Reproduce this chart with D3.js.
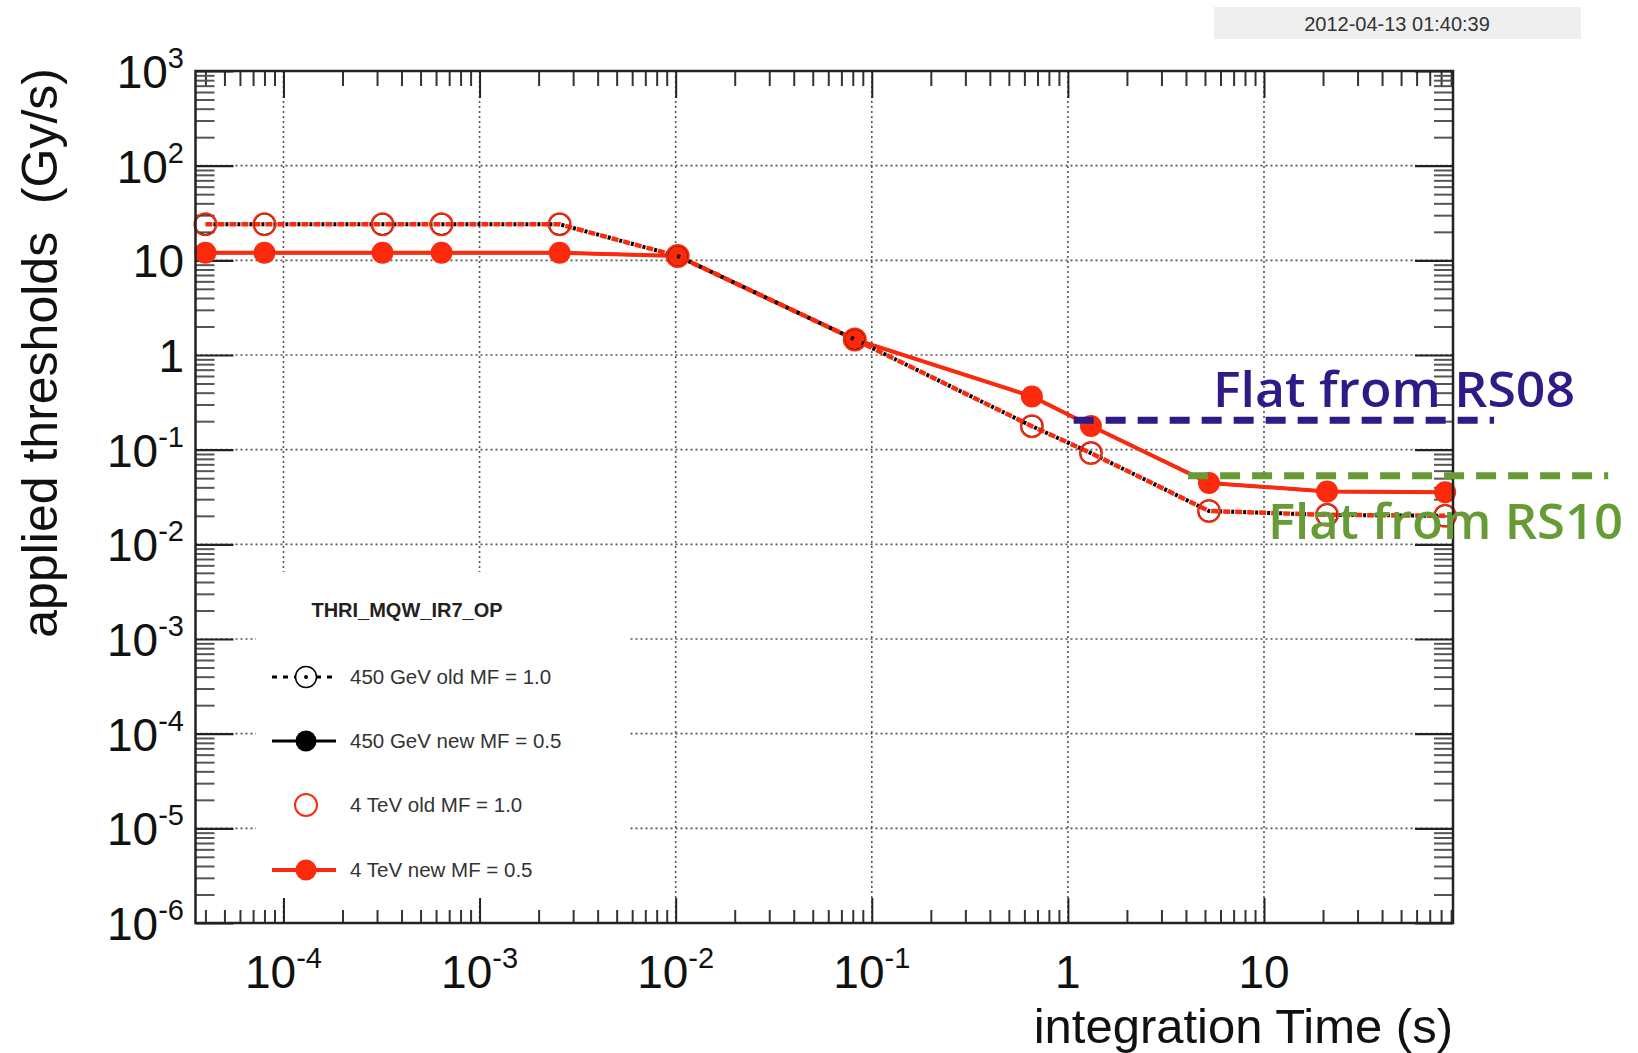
<!DOCTYPE html>
<html>
<head>
<meta charset="utf-8">
<script src="https://cdn.jsdelivr.net/npm/d3@7"></script>
<style>
html, body { margin: 0; padding: 0; background: #fff; }
svg { display: block; font-family: "Liberation Sans", Arial, Helvetica, sans-serif; }
</style>
</head>
<body>
<svg id="chart" width="1638" height="1053"></svg>
<script>
// BLM running sums and their integration windows (s)
const runningSums = ['RS01', 'RS02', 'RS03', 'RS04', 'RS05', 'RS06', 'RS07', 'RS08', 'RS09', 'RS10', 'RS11', 'RS12'];
const integrationTimes = [4e-5, 8e-5, 3.2e-4, 6.4e-4, 2.56e-3, 1.024e-2, 8.192e-2, 0.65536, 1.31072, 5.24288, 20.97152, 83.88608];

// thresholds (Gy/s)
const old450GeV = [24, 24, 24, 24, 24, 11.1, 1.46, 0.177, 0.092, 0.0225, 0.0205, 0.02];
const new450GeV = [12, 12, 12, 12, 12, 11.1, 1.46, 0.365, 0.178, 0.0445, 0.0362, 0.0355];
const old4TeV = [24, 24, 24, 24, 24, 11.1, 1.46, 0.177, 0.092, 0.0225, 0.0205, 0.02];
const new4TeV = [12, 12, 12, 12, 12, 11.1, 1.46, 0.365, 0.178, 0.0445, 0.0362, 0.0355];

const xTickValues = [1e-4, 1e-3, 1e-2, 1e-1, 1, 10];
const xTickLabels = [['10', '-4'], ['10', '-3'], ['10', '-2'], ['10', '-1'], ['1', ''], ['10', '']];
const yTickValues = [1e3, 1e2, 10, 1, 1e-1, 1e-2, 1e-3, 1e-4, 1e-5, 1e-6];
const yTickLabels = [['10', '3'], ['10', '2'], ['10', ''], ['1', ''], ['10', '-1'], ['10', '-2'], ['10', '-3'], ['10', '-4'], ['10', '-5'], ['10', '-6']];

const legendTitle = 'THRI_MQW_IR7_OP';
const legendLabels = ['450 GeV old MF = 1.0', '450 GeV new MF = 0.5', '4 TeV old MF = 1.0', '4 TeV new MF = 0.5'];

// "flat from" annotations: level (Gy/s) and time span (s)
const flatLabels = ['Flat from RS08', 'Flat from RS10'];
const flatLevels = [0.205, 0.053];
const flatFrom = [1.07, 4.1];
const flatTo = [149, 569];
const flatColors = ['#2f1a86', '#679b36'];

const timestamp = '2012-04-13 01:40:39';

const RED = '#fb2a0c';
const plot = { left: 195.5, right: 1453, top: 71, bottom: 923 };

const svg = d3.select('#chart');
svg.append('rect').attr('width', 1638).attr('height', 1053).attr('fill', '#fff');

const x = d3.scaleLog().domain([3.56e-5, 92]).range([plot.left, plot.right]);
const y = d3.scaleLog().domain([1e-6, 1e3]).range([plot.bottom, plot.top]);

function minorTicks(scale) {
    const [lo, hi] = scale.domain();
    const out = [];
    for (let k = Math.floor(Math.log10(lo)); k <= Math.ceil(Math.log10(hi)); k++) {
        for (let m = 2; m <= 9; m++) {
            const v = m * Math.pow(10, k);
            if (v > lo && v < hi) out.push(v);
        }
    }
    return out;
}

// grid
const grid = svg.append('g').attr('stroke', '#555').attr('stroke-width', 1.6).attr('stroke-dasharray', '2,3');
grid.selectAll('line.vx').data(xTickValues).enter().append('line')
    .attr('x1', (d) => x(d)).attr('x2', (d) => x(d))
    .attr('y1', plot.top).attr('y2', plot.bottom);
grid.selectAll('line.hy').data(yTickValues.filter((d) => d > 1e-6 && d < 1e3)).enter().append('line')
    .attr('x1', plot.left).attr('x2', plot.right)
    .attr('y1', (d) => y(d)).attr('y2', (d) => y(d));

// legend background hides the grid
svg.append('rect').attr('x', 256).attr('y', 572).attr('width', 372).attr('height', 330).attr('fill', '#fff');

// ticks through d3 axes
function tickAxis(axis, transform, color, width) {
    const g = svg.append('g').attr('transform', transform).call(axis);
    g.select('.domain').remove();
    g.selectAll('line').attr('stroke', color).attr('stroke-width', width);
    return g;
}
const xMinor = minorTicks(x);
const yMinor = minorTicks(y);
tickAxis(d3.axisBottom(x).tickValues(xTickValues).tickSizeInner(-25).tickSizeOuter(0).tickFormat(''), `translate(0,${plot.bottom})`, '#222', 2);
tickAxis(d3.axisBottom(x).tickValues(xMinor).tickSizeInner(-13).tickSizeOuter(0).tickFormat(''), `translate(0,${plot.bottom})`, '#333', 2);
tickAxis(d3.axisTop(x).tickValues(xTickValues).tickSizeInner(-27).tickSizeOuter(0).tickFormat(''), `translate(0,${plot.top})`, '#222', 2);
tickAxis(d3.axisTop(x).tickValues(xMinor).tickSizeInner(-15).tickSizeOuter(0).tickFormat(''), `translate(0,${plot.top})`, '#333', 2);
tickAxis(d3.axisLeft(y).tickValues(yTickValues).tickSizeInner(-38).tickSizeOuter(0).tickFormat(''), `translate(${plot.left},0)`, '#222', 2.2);
tickAxis(d3.axisLeft(y).tickValues(yMinor).tickSizeInner(-19).tickSizeOuter(0).tickFormat(''), `translate(${plot.left},0)`, '#555', 2);
tickAxis(d3.axisRight(y).tickValues(yTickValues).tickSizeInner(-38).tickSizeOuter(0).tickFormat(''), `translate(${plot.right},0)`, '#222', 2.2);
tickAxis(d3.axisRight(y).tickValues(yMinor).tickSizeInner(-19).tickSizeOuter(0).tickFormat(''), `translate(${plot.right},0)`, '#555', 2);

// series
const pts = (vals) => integrationTimes.map((t, i) => [t, vals[i]]);
const line = d3.line().x((d) => x(d[0])).y((d) => y(d[1]));

// 450 GeV new (black, under the red)
svg.append('path').attr('d', line(pts(new450GeV))).attr('fill', 'none').attr('stroke', '#000').attr('stroke-width', 3);
// 4 TeV new
svg.append('path').attr('d', line(pts(new4TeV))).attr('fill', 'none').attr('stroke', RED).attr('stroke-width', 4);
svg.selectAll('circle.b-new').data(pts(new450GeV)).enter().append('circle')
    .attr('cx', (d) => x(d[0])).attr('cy', (d) => y(d[1])).attr('r', 10).attr('fill', '#000');
svg.selectAll('circle.r-new').data(pts(new4TeV)).enter().append('circle')
    .attr('cx', (d) => x(d[0])).attr('cy', (d) => y(d[1])).attr('r', 11).attr('fill', RED);

// old: red dashed + black dashed interleaved
svg.append('path').attr('d', line(pts(old4TeV))).attr('fill', 'none').attr('stroke', RED)
    .attr('stroke-width', 4.5).attr('stroke-dasharray', '7,5');
svg.append('path').attr('d', line(pts(old450GeV))).attr('fill', 'none').attr('stroke', '#000')
    .attr('stroke-width', 4).attr('stroke-dasharray', '3,9').attr('stroke-dashoffset', 4);
svg.selectAll('circle.b-old').data(pts(old450GeV)).enter().append('circle')
    .attr('cx', (d) => x(d[0])).attr('cy', (d) => y(d[1])).attr('r', 10.5)
    .attr('fill', 'none').attr('stroke', '#000').attr('stroke-width', 1.5);
svg.selectAll('circle.r-old').data(pts(old4TeV)).enter().append('circle')
    .attr('cx', (d) => x(d[0])).attr('cy', (d) => y(d[1])).attr('r', 11)
    .attr('fill', 'none').attr('stroke', RED).attr('stroke-width', 2);

// frame
svg.append('rect').attr('x', plot.left).attr('y', plot.top)
    .attr('width', plot.right - plot.left).attr('height', plot.bottom - plot.top)
    .attr('fill', 'none').attr('stroke', '#222').attr('stroke-width', 2.5);

// tick labels
const xl = svg.append('g').attr('fill', '#111');
xTickValues.forEach((v, i) => {
    const [base, sup] = xTickLabels[i];
    const t = xl.append('text').attr('x', x(v)).attr('y', 988)
        .attr('text-anchor', 'middle').attr('font-size', 46);
    t.append('tspan').text(base);
    if (sup) t.append('tspan').attr('dy', -20).attr('font-size', 29).text(sup);
});
const yl = svg.append('g').attr('fill', '#111');
yTickValues.forEach((v, i) => {
    const [base, sup] = yTickLabels[i];
    const t = yl.append('text').attr('x', 184).attr('y', y(v) + 17)
        .attr('text-anchor', 'end').attr('font-size', 46);
    t.append('tspan').text(base);
    if (sup) t.append('tspan').attr('dy', -20).attr('font-size', 29).text(sup);
});

// axis titles
svg.append('text').attr('x', plot.right).attr('y', 1043).attr('text-anchor', 'end')
    .attr('font-size', 49).attr('fill', '#111').text('integration Time (s)');
svg.append('text').attr('transform', 'translate(57,68) rotate(-90)').attr('text-anchor', 'end')
    .attr('font-size', 50).attr('fill', '#111').style('white-space', 'pre')
    .text('applied thresholds  (Gy/s)');

// legend
const lg = svg.append('g');
lg.append('text').attr('x', 407).attr('y', 617).attr('text-anchor', 'middle')
    .attr('font-size', 20).attr('font-weight', 'bold').attr('fill', '#222').text(legendTitle);
const rowY = [677, 741, 805, 870];
const mx = 306;
// row 1: black dashed + open circle with dot
lg.append('line').attr('x1', 272).attr('x2', 336).attr('y1', rowY[0]).attr('y2', rowY[0])
    .attr('stroke', '#000').attr('stroke-width', 3).attr('stroke-dasharray', '5,6');
lg.append('circle').attr('cx', mx).attr('cy', rowY[0]).attr('r', 10.5).attr('fill', '#fff').attr('stroke', '#000').attr('stroke-width', 1.5);
lg.append('circle').attr('cx', mx).attr('cy', rowY[0]).attr('r', 2).attr('fill', '#000');
// row 2: black solid + filled circle
lg.append('line').attr('x1', 272).attr('x2', 336).attr('y1', rowY[1]).attr('y2', rowY[1]).attr('stroke', '#000').attr('stroke-width', 3);
lg.append('circle').attr('cx', mx).attr('cy', rowY[1]).attr('r', 10.5).attr('fill', '#000');
// row 3: red open circle
lg.append('circle').attr('cx', mx).attr('cy', rowY[2]).attr('r', 11).attr('fill', 'none').attr('stroke', RED).attr('stroke-width', 2);
// row 4: red solid + filled circle
lg.append('line').attr('x1', 272).attr('x2', 336).attr('y1', rowY[3]).attr('y2', rowY[3]).attr('stroke', RED).attr('stroke-width', 4);
lg.append('circle').attr('cx', mx).attr('cy', rowY[3]).attr('r', 10.5).attr('fill', RED);
legendLabels.forEach((label, i) => {
    lg.append('text').attr('x', 350).attr('y', rowY[i] + 7).attr('font-size', 20.5).attr('fill', '#333').text(label);
});

// timestamp box
svg.append('rect').attr('x', 1214).attr('y', 7).attr('width', 367).attr('height', 32).attr('fill', '#efefef');
svg.append('text').attr('x', 1397).attr('y', 31).attr('text-anchor', 'middle')
    .attr('font-size', 20).attr('fill', '#333').text(timestamp);

// flat-from annotations
flatLabels.forEach((label, i) => {
    svg.append('line')
        .attr('x1', x(flatFrom[i])).attr('x2', x(flatTo[i]))
        .attr('y1', y(flatLevels[i])).attr('y2', y(flatLevels[i]))
        .attr('stroke', flatColors[i]).attr('stroke-width', 7).attr('stroke-dasharray', '20,12');
});
svg.append('text').attr('x', 1213).attr('y', 407).attr('font-size', 48).attr('font-weight', 600)
    .attr('font-family', '"Open Sans", sans-serif').attr('fill', flatColors[0])
    .attr('textLength', 362).attr('lengthAdjust', 'spacingAndGlyphs').text(flatLabels[0]);
svg.append('text').attr('x', 1268).attr('y', 539).attr('font-size', 48).attr('font-weight', 600)
    .attr('font-family', '"Open Sans", sans-serif').attr('fill', flatColors[1])
    .attr('textLength', 355).attr('lengthAdjust', 'spacingAndGlyphs').text(flatLabels[1]);
</script>
</body>
</html>
